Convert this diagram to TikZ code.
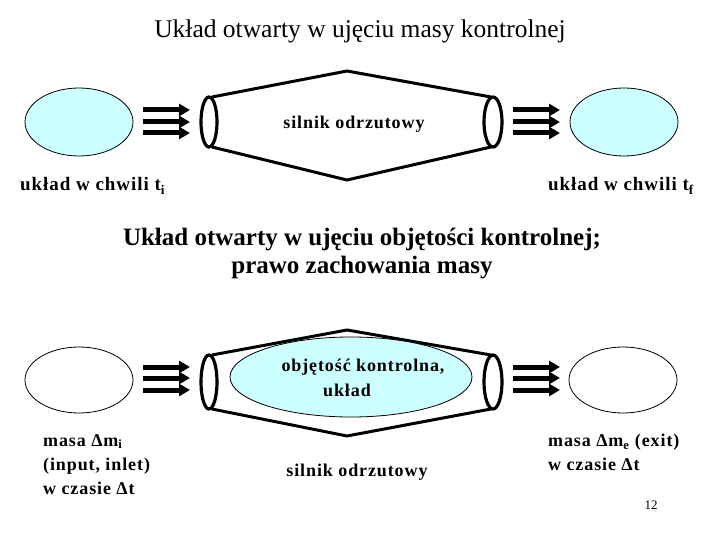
\documentclass[tikz,border=0pt]{standalone}
\usepackage{fontspec}
\setmainfont{Liberation Serif}
\newfontfamily\labfont[LetterSpace=5]{Liberation Serif}
\usetikzlibrary{arrows.meta,shapes.geometric}
\definecolor{cvfill}{RGB}{204,255,255}
\begin{document}
\begin{tikzpicture}[x=1pt,y=-1pt,
  blob/.style={draw=black, line width=0.8pt},
  ring/.style={draw=black, line width=3.2pt},
  shell/.style={draw=black, line width=3pt, line join=miter},
  flow/.style={line width=5pt, -{Triangle[length=11pt,width=12pt]}},
  lab/.style={inner sep=0pt, font=\labfont\bfseries\fontsize{18}{24}\selectfont},
  biglab/.style={inner sep=0pt, font=\labfont\bfseries\fontsize{19}{23}\selectfont},
  title/.style={inner sep=0pt, align=center}]
\useasboundingbox (0,0) rectangle (720,540);

% ---------- titles ----------
\node[title, font=\fontsize{25.5}{30}\selectfont] (t1) at (360,31) {Układ otwarty w ujęciu masy kontrolnej};
\node[title, font=\bfseries\fontsize{25}{28}\selectfont] (t2) at (362,254) {Układ otwarty w ujęciu objętości kontrolnej;\\prawo zachowania masy};

% ---------- upper engine ----------
\node[blob, fill=cvfill, ellipse, minimum width=108pt, minimum height=68pt, inner sep=0pt] (ui) at (79,122) {};
\node[blob, fill=cvfill, ellipse, minimum width=108pt, minimum height=68pt, inner sep=0pt] (uf) at (624,122) {};
\draw[ring] (209,122) ellipse [x radius=8, y radius=25];
\draw[ring] (493,122) ellipse [x radius=9, y radius=25];
\draw[shell] (212,97) -- (347,71) -- (491,97);
\draw[shell] (212,147) -- (347,180) -- (491,147);
\foreach \yy [count=\k] in {110,122,133}{
  \coordinate (ula\k) at (143,\yy); \coordinate (ulb\k) at (190,\yy);
  \draw[flow] (ula\k) -- (ulb\k);
  \coordinate (ura\k) at (513,\yy); \coordinate (urb\k) at (560,\yy);
  \draw[flow] (ura\k) -- (urb\k);
}
\node[lab] (us) at (354,124) {silnik odrzutowy};
\node[biglab, anchor=west] (uli) at (20,186) {układ w chwili t\textsubscript{i}};
\node[biglab, anchor=west] (ulf) at (548,186) {układ w chwili t\textsubscript{f}};

% ---------- lower engine ----------
\node[blob, ellipse, minimum width=108pt, minimum height=66pt, inner sep=0pt] (li) at (79,380) {};
\node[blob, ellipse, minimum width=108pt, minimum height=66pt, inner sep=0pt] (le) at (623,380) {};
\draw[ring] (209,382) ellipse [x radius=8, y radius=27];
\draw[ring] (493,382) ellipse [x radius=9, y radius=27];
\draw[shell] (212,355) -- (347,330) -- (491,355);
\draw[shell] (212,409) -- (347,436) -- (491,409);
\node[blob, fill=cvfill, ellipse, minimum width=242pt, minimum height=80pt, inner sep=0pt] (cv) at (351,377) {};
\node[lab] (cv1) at (363,367) {objętość kontrolna,};
\node[lab] (cv2) at (347,390) {układ};
\foreach \yy [count=\k] in {367,378,390}{
  \coordinate (lla\k) at (143,\yy); \coordinate (llb\k) at (190,\yy);
  \draw[flow] (lla\k) -- (llb\k);
  \coordinate (lra\k) at (513,\yy); \coordinate (lrb\k) at (560,\yy);
  \draw[flow] (lra\k) -- (lrb\k);
}
\node[lab] (ls) at (357,472) {silnik odrzutowy};
\node[lab, anchor=north west, align=left] (lin) at (43,434) {masa Δm\textsubscript{i}\\(input, inlet)\\w czasie Δt};
\node[lab, anchor=north west, align=left] (lex) at (548,434) {masa Δm\textsubscript{e} (exit)\\w czasie Δt};
\node[inner sep=0pt, font=\fontsize{13}{15}\selectfont] (pg) at (651,505) {12};
\end{tikzpicture}
\end{document}
